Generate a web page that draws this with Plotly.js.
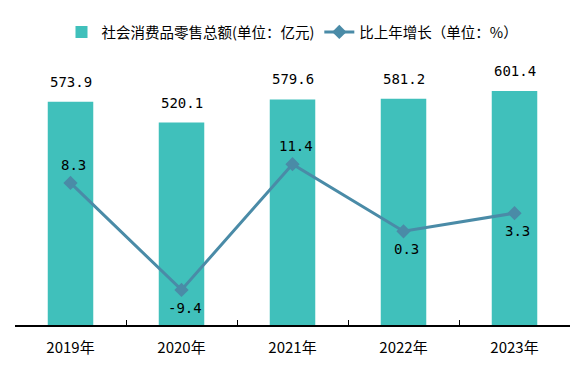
<!DOCTYPE html>
<html>
<head>
<meta charset="utf-8">
<script src="https://cdn.plot.ly/plotly-3.0.1.min.js"></script>
<style>html,body{margin:0;padding:0;background:#fff;}#chart{width:582px;height:379px;}</style>
</head>
<body>
<div id="chart"></div>
<script>
const years = ["2019年", "2020年", "2021年", "2022年", "2023年"];
const salesValues = [573.9, 520.1, 579.6, 581.2, 601.4];
const growthValues = [8.3, -9.4, 11.4, 0.3, 3.3];
const growthLabelSide = ["above", "below", "above", "below", "below"];
const salesName = "社会消费品零售总额(单位：亿元)";
const growthName = "比上年增长（单位：%）";

const barColor = "#40C0BB";
const lineColor = "#4A8BA7";
const numFont = {family: "DejaVu Sans Mono, Liberation Mono, monospace", size: 14, color: "#000"};

const traces = [
  {type: "bar", x: years, y: salesValues, name: salesName, marker: {color: barColor}, width: 0.41, hoverinfo: "skip"},
  {type: "scatter", mode: "lines+markers", x: years, y: growthValues, name: growthName, yaxis: "y2",
   line: {color: lineColor, width: 3}, marker: {symbol: "diamond", size: 11, color: lineColor}, hoverinfo: "skip"}
];

const annotations = [];
years.forEach((yr, i) => {
  annotations.push({x: yr, y: salesValues[i], xref: "x", yref: "y", text: salesValues[i].toFixed(1),
    showarrow: false, yshift: 20, font: numFont});
  annotations.push({x: yr, y: growthValues[i], xref: "x", yref: "y2", text: growthValues[i].toFixed(1),
    showarrow: false, yshift: growthLabelSide[i] === "above" ? 18 : -18, xshift: 3, font: numFont});
});

const layout = {
  width: 582, height: 379,
  margin: {l: 15, r: 12, t: 65, b: 54},
  paper_bgcolor: "#fff", plot_bgcolor: "#fff",
  font: {family: "Noto Sans CJK SC, sans-serif", color: "#000"},
  showlegend: true,
  legend: {orientation: "h", x: 0.5, xanchor: "center", y: 1.127, yanchor: "middle",
    font: {size: 14.5, family: "Noto Sans CJK SC, sans-serif", color: "#000"}, itemwidth: 30, tracegroupgap: 0},
  xaxis: {type: "category", showline: true, linecolor: "#000", linewidth: 1.5,
    ticks: "inside", ticklen: 5, tickcolor: "#000", tickson: "boundaries", showgrid: false, zeroline: false,
    ticklabelstandoff: 8,
    tickfont: {size: 15, family: "Noto Sans CJK SC, sans-serif", color: "#000"}},
  yaxis: {range: [0, 668], visible: false, showgrid: false, zeroline: false, fixedrange: true},
  yaxis2: {range: [-15.2, 27.8], overlaying: "y", side: "right", visible: false, showgrid: false, zeroline: false},
  annotations: annotations
};

Plotly.newPlot("chart", traces, layout, {displayModeBar: false, staticPlot: true});
</script>
</body>
</html>
